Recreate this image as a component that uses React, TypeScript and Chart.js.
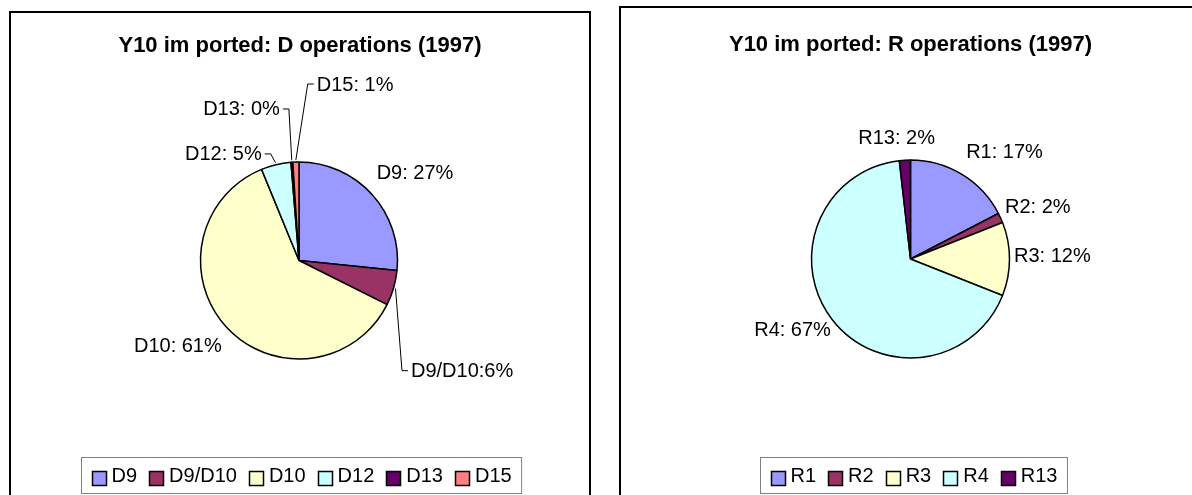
import React, { useEffect, useRef } from "react";
import { Chart, registerables } from "chart.js";

Chart.register(...registerables);

// ---------------- data ----------------
const dTitle = "Y10 im ported: D operations (1997)";
const dCategories = ["D9", "D9/D10", "D10", "D12", "D13", "D15"];
const dValues = [26.6, 5.8, 61.4, 4.9, 0.3, 1.0];
const dSeparators = [": ", ":", ": ", ": ", ": ", ": "];

const rTitle = "Y10 im ported: R operations (1997)";
const rCategories = ["R1", "R2", "R3", "R4", "R13"];
const rValues = [17.4, 1.6, 12.0, 67.2, 1.8];
const rSeparators = [": ", ": ", ": ", ": ", ": "];

// ---------------- styles ----------------
const dColors = ["#9999FF", "#993366", "#FFFFCC", "#CCFFFF", "#660066", "#FF8080"];
const rColors = ["#9999FF", "#993366", "#FFFFCC", "#CCFFFF", "#660066"];
const FONT = '"Liberation Sans", Arial, Helvetica, sans-serif';

type Align = "left" | "right" | "center";
type LabelPos = { dx: number; dy: number; align: Align; leader: boolean };

// offsets of each data label from the slice's outer edge at its mid angle
const dLabelLayout: LabelPos[] = [
  { dx: 4.6, dy: -21.2, align: "left", leader: false },
  { dx: 17.4, dy: 83.7, align: "left", leader: true },
  { dx: -5, dy: 19.3, align: "right", leader: false },
  { dx: -14.3, dy: -9.8, align: "right", leader: true },
  { dx: -12, dy: -52.3, align: "right", leader: true },
  { dx: 20.8, dy: -77, align: "left", leader: true },
];
const rLabelLayout: LabelPos[] = [
  { dx: 4.2, dy: -22.2, align: "left", leader: false },
  { dx: 4.4, dy: -10.6, align: "left", leader: false },
  { dx: 4.5, dy: -2.3, align: "left", leader: false },
  { dx: -1, dy: 11, align: "right", leader: false },
  { dx: -8.3, dy: -21.9, align: "center", leader: false },
];

type PanelCfg = {
  title: string;
  labels: string[];
  values: number[];
  colors: string[];
  separators: string[];
  layout: LabelPos[];
  left: number;
  top: number;
  width: number;
  height: number;
  showRight: boolean;
  padding: { left: number; right: number; top: number; bottom: number };
  radius: number;
  titleY: number;
  legendTop: number;
  legendDx: number;
};

const excelPiePlugin = {
  id: "excelPie",
  afterDraw(chart: any, _args: any, opts: any) {
    const ctx: CanvasRenderingContext2D = chart.ctx;
    const meta = chart.getDatasetMeta(0);
    const ds = chart.data.datasets[0];
    const data = ds.data as number[];
    const labels = chart.data.labels as string[];
    const total = data.reduce((a: number, b: number) => a + b, 0);
    ctx.save();

    // title
    ctx.fillStyle = "#000";
    ctx.font = `bold 22px ${FONT}`;
    ctx.textAlign = "center";
    ctx.textBaseline = "middle";
    ctx.fillText(opts.title, chart.width / 2, opts.titleY);

    // data labels
    ctx.font = `20px ${FONT}`;
    ctx.strokeStyle = "#000";
    ctx.lineWidth = 1;
    meta.data.forEach((arc: any, i: number) => {
      const p = arc.getProps(["x", "y", "startAngle", "endAngle", "outerRadius"], true);
      const mid = (p.startAngle + p.endAngle) / 2;
      const ex = p.x + Math.cos(mid) * p.outerRadius;
      const ey = p.y + Math.sin(mid) * p.outerRadius;
      const L: LabelPos = opts.layout[i];
      const tx = ex + L.dx;
      const ty = ey + L.dy;
      const pct = Math.round((data[i] / total) * 100);
      const text = labels[i] + opts.separators[i] + pct + "%";
      ctx.textAlign = L.align;
      ctx.fillText(text, tx, ty);
      if (L.leader) {
        const dir = L.align === "left" ? -1 : 1;
        const sx = p.x + Math.cos(mid) * (p.outerRadius + 2);
        const sy = p.y + Math.sin(mid) * (p.outerRadius + 2);
        ctx.beginPath();
        ctx.moveTo(sx, sy);
        ctx.lineTo(tx + dir * 9, ty - 1);
        ctx.lineTo(tx + dir * 3, ty - 1);
        ctx.stroke();
      }
    });

    // legend
    ctx.font = `20px ${FONT}`;
    ctx.textAlign = "left";
    const sw = 14;
    const gapText = 6;
    const gapItem = 12;
    const margin = 10;
    const widths = labels.map((l: string) => ctx.measureText(l).width);
    let totalW = margin * 2;
    widths.forEach((w: number, i: number) => {
      totalW += sw + gapText + w + (i < widths.length - 1 ? gapItem : 0);
    });
    const boxH = 36;
    const bx = Math.round(chart.width / 2 + opts.legendDx - totalW / 2) + 0.5;
    const by = opts.legendTop + 0.5;
    ctx.strokeStyle = "#808080";
    ctx.lineWidth = 1;
    ctx.fillStyle = "#fff";
    ctx.fillRect(bx, by, totalW, boxH);
    ctx.strokeRect(bx, by, totalW, boxH);
    let cx = bx + margin;
    const cy = by + boxH / 2;
    labels.forEach((l: string, i: number) => {
      const colors = ds.backgroundColor as string[];
      ctx.fillStyle = colors[i];
      const sx = Math.round(cx) + 0.5;
      const sy = Math.round(cy - sw / 2 + 2) + 0.5;
      ctx.fillRect(sx, sy, sw, sw);
      ctx.strokeStyle = "#000";
      ctx.lineWidth = 1.5;
      ctx.strokeRect(sx, sy, sw, sw);
      ctx.fillStyle = "#000";
      ctx.fillText(l, cx + sw + gapText, cy + 1);
      cx += sw + gapText + widths[i] + gapItem;
    });

    ctx.restore();
  },
};

function PiePanel({ cfg }: { cfg: PanelCfg }) {
  const ref = useRef<HTMLCanvasElement | null>(null);
  const cw = cfg.width - 2 - (cfg.showRight ? 2 : 0);
  const ch = cfg.height - 2;
  useEffect(() => {
    if (!ref.current) return;
    const chart = new Chart(ref.current, {
      type: "pie",
      data: {
        labels: cfg.labels,
        datasets: [
          {
            data: cfg.values,
            backgroundColor: cfg.colors,
            borderColor: "#000",
            borderWidth: 1.5,
            radius: cfg.radius,
          } as any,
        ],
      },
      options: {
        responsive: false,
        animation: false,
        layout: { padding: cfg.padding },
        plugins: {
          legend: { display: false },
          title: { display: false },
          tooltip: { enabled: false },
          excelPie: {
            title: cfg.title,
            layout: cfg.layout,
            separators: cfg.separators,
            titleY: cfg.titleY,
            legendTop: cfg.legendTop,
            legendDx: cfg.legendDx,
          },
        } as any,
      },
      plugins: [excelPiePlugin as any],
    });
    return () => chart.destroy();
  }, [cfg]);
  return (
    <div
      style={{
        position: "absolute",
        left: cfg.left,
        top: cfg.top,
        width: cfg.width,
        height: cfg.height,
        boxSizing: "border-box",
        borderTop: "2px solid #000",
        borderLeft: "2px solid #000",
        borderRight: cfg.showRight ? "2px solid #000" : "none",
        borderBottom: "none",
        background: "#fff",
      }}
    >
      <canvas ref={ref} width={cw} height={ch} style={{ display: "block", width: cw, height: ch }} />
    </div>
  );
}

const leftCfg: PanelCfg = {
  title: dTitle,
  labels: dCategories,
  values: dValues,
  colors: dColors,
  separators: dSeparators,
  layout: dLabelLayout,
  left: 9,
  top: 11,
  width: 582,
  height: 484,
  showRight: true,
  padding: { left: 0, right: 2, top: 13, bottom: 0 },
  radius: 98.5,
  titleY: 33,
  legendTop: 444,
  legendDx: 1,
};

const rightCfg: PanelCfg = {
  title: rTitle,
  labels: rCategories,
  values: rValues,
  colors: rColors,
  separators: rSeparators,
  layout: rLabelLayout,
  left: 619,
  top: 6,
  width: 581,
  height: 489,
  showRight: false,
  padding: { left: 0, right: 0, top: 15, bottom: 0 },
  radius: 99,
  titleY: 37,
  legendTop: 449,
  legendDx: 3,
};

export default function App() {
  return (
    <div
      style={{
        position: "fixed",
        left: 0,
        top: 0,
        width: 1192,
        height: 495,
        overflow: "hidden",
        background: "#fff",
      }}
    >
      <PiePanel cfg={leftCfg} />
      <PiePanel cfg={rightCfg} />
    </div>
  );
}
